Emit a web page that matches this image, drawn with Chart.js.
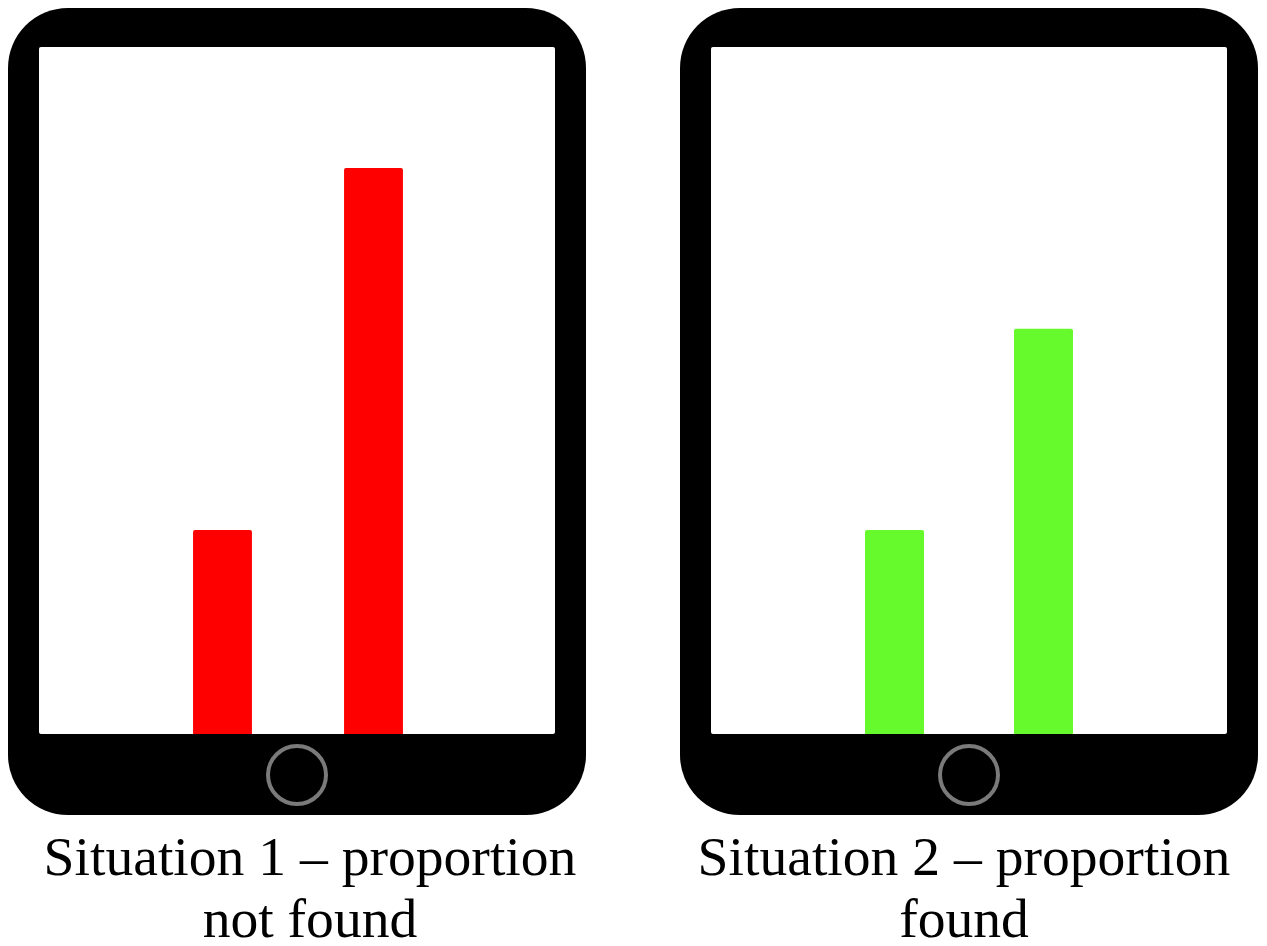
<!DOCTYPE html>
<html>
<head>
<meta charset="utf-8">
<script src="https://cdn.jsdelivr.net/npm/chart.js@4"></script>
<style>
  html, body { margin: 0; padding: 0; background: #fff; }
  body { position: relative; width: 1267px; height: 946px; overflow: hidden; }
  .tablet { position: absolute; top: 8px; width: 578px; height: 807px; background: #000; border-radius: 60px; }
  .screen { position: absolute; left: 31px; top: 39px; width: 516px; height: 687px; background: #fff; border-radius: 2px; }
  .screen canvas { display: block; }
  .home { position: absolute; left: 258px; top: 736px; width: 54px; height: 54px; border: 4px solid #7a7a7a; border-radius: 50%; }
  .caption { position: absolute; top: 825px; width: 640px; text-align: center; color: #000;
    font-family: "Liberation Serif", serif; font-size: 55.6px; line-height: 62px; white-space: nowrap; }
</style>
</head>
<body>
<div class="tablet" style="left:8px"><div class="screen"><canvas id="chart1" width="516" height="687"></canvas></div><div class="home"></div></div>
<div class="tablet" style="left:680px"><div class="screen"><canvas id="chart2" width="516" height="687"></canvas></div><div class="home"></div></div>
<div class="caption" style="left:-10px">Situation 1 – proportion<br>not found</div>
<div class="caption" style="left:644px">Situation 2 – proportion<br>found</div>

<script>
const categories = ["First", "Second"];
const situation1Values = [29.7, 82.4];
const situation2Values = [29.7, 59];

function makeChart(id, values, color, padLeft, padRight, barPct) {
  new Chart(document.getElementById(id), {
    type: "bar",
    data: {
      labels: categories,
      datasets: [{
        data: values,
        backgroundColor: color,
        borderWidth: 0,
        borderRadius: { topLeft: 2, topRight: 2, bottomLeft: 0, bottomRight: 0 },
        borderSkipped: false,
        barPercentage: barPct,
        categoryPercentage: 1,
      }],
    },
    options: {
      responsive: false,
      animation: false,
      layout: { padding: { left: padLeft, right: padRight, top: 0, bottom: 0 } },
      plugins: { legend: { display: false }, tooltip: { enabled: false } },
      scales: {
        x: { display: false, grid: { display: false } },
        y: { display: false, min: 0, max: 100, grid: { display: false } },
      },
    },
  });
}

makeChart("chart1", situation1Values, "#ff0000", 108, 106, 0.39);
makeChart("chart2", situation2Values, "#66f92c", 109, 109, 0.396);
</script>
</body>
</html>
